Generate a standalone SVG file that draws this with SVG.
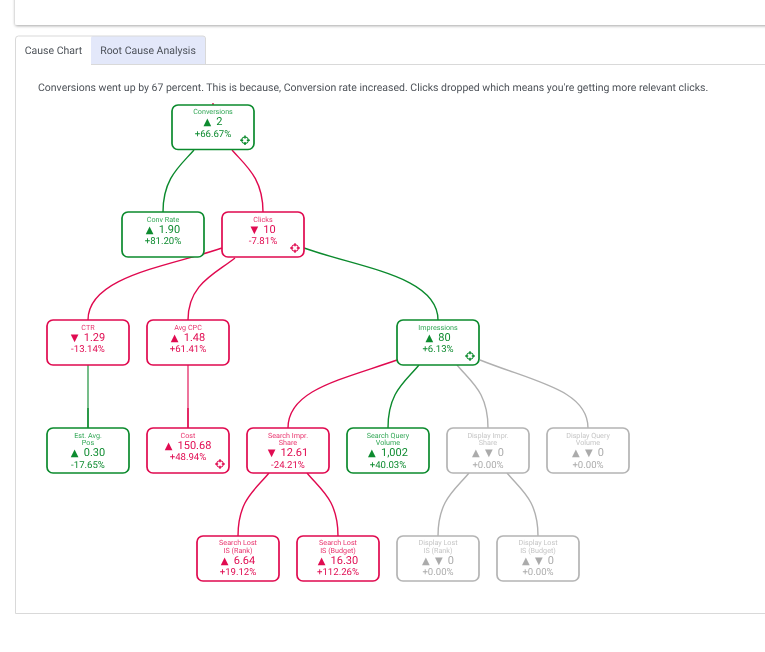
<svg xmlns="http://www.w3.org/2000/svg" width="765" height="652" viewBox="0 0 765 652">
<style>
text{font-family:Roboto,"Liberation Sans","DejaVu Sans",sans-serif;text-anchor:middle;text-rendering:geometricPrecision;opacity:.99}
.box{fill:#fff;stroke-width:1.7}
.nm{font-size:7.2px}
.val{font-size:11px}
.pct{font-size:9.6px}
.a{font-family:"DejaVu Sans",sans-serif;font-size:10px;letter-spacing:1px}
.g .box{stroke:#0b8a2d}.g text{fill:#0b8a2d}.g .nm{fill:#2fa653}
.r .box{stroke:#e0094f}.r text{fill:#e0094f}.r .nm{fill:#e8306c}
.n .box{stroke:#b4b4b4}.n text{fill:#ababab}.n .nm{fill:#c4c4c4}
.c{fill:none;stroke-width:1.4}
.cg{stroke:#0b8a2d}.cr{stroke:#e0094f}.cn{stroke:#b0b0b0}
.tab{font-size:10.5px;fill:#4a4f57}
.line{stroke:#d9d9d9;stroke-width:1;fill:none}
.t2{fill:#4a4f57;font-size:10.5px;text-anchor:start}
</style>
<defs>
<filter id="sh" x="-5%" y="-20%" width="110%" height="150%"><feDropShadow dx="0" dy="1" stdDeviation="1.5" flood-color="#000" flood-opacity=".35"/></filter>
<g id="tgt" fill="none">
<circle r="3.3" stroke="currentColor" stroke-width="1.1"/>
<path d="M0-4.800V-1.800M0 1.800V4.800M-4.800 0H-1.800M1.800 0H4.800" stroke="currentColor" stroke-width="1.500"/>
</g>
</defs>
<rect width="765" height="652" fill="#fff"/>
<rect id="top-card" x="15" y="-20" width="770" height="45" rx="2" fill="#fff" filter="url(#sh)"/>
<g id="tabs">
<path d="M91 64V38a2 2 0 0 1 2-2H203a2 2 0 0 1 2 2V64Z" fill="#e3e8fa"/>
<path class="line" d="M15.500 613.500V39a3 3 0 0 1 3-3H91M205.500 38V64.500H91M205 64.500H765M15.500 613.500H765"/>
<path class="line" d="M91 36H203a2.500 2.500 0 0 1 2.500 2.500"/>
<text class="tab" x="53.500" y="54">Cause Chart</text>
<text class="tab" x="148" y="54">Root Cause Analysis</text>
</g>
<text class="t2" x="38" y="91">Conversions went up by 67 percent. This is because, Conversion rate increased. Clicks dropped which means you're getting more relevant clicks.</text>
<g id="connectors">
<path class="c cr" d="M213 103V105"/>
<path class="c cg" d="M194 150C180 166 163 178 163 212"/>
<path class="c cr" d="M232 150C246 166 263 178 263 212"/>
<path class="c cr" d="M222 248C170 266 88 276 88 320"/>
<path class="c cr" d="M235 258C215 274 188 284 188 320"/>
<path class="c cg" d="M304 248C360 268 438 276 438 320"/>
<path class="c cg" d="M88 365V428" stroke-opacity=".8"/>
<path class="c cg" d="M88 408V428"/>
<path class="c cr" d="M188 365V428" stroke-opacity=".8"/>
<path class="c cr" d="M188 408V428"/>
<path class="c cr" d="M397 360C340 380 288 390 288 428"/>
<path class="c cg" d="M419 365C405 382 388 392 388 428"/>
<path class="c cn" d="M457 365C471 382 488 392 488 428"/>
<path class="c cn" d="M480 360C535 382 588 390 588 428"/>
<path class="c cr" d="M269 473C255 490 238 500 238 536"/>
<path class="c cr" d="M307 473C321 490 338 500 338 536"/>
<path class="c cn" d="M469 473C455 490 438 500 438 536"/>
<path class="c cn" d="M507 473C521 490 538 500 538 536"/>
</g>
<g id="conversions" class="g" transform="translate(172 105)"><rect class="box" width="82" height="44.500" rx="6"/><text class="nm" x="41" y="9">Conversions</text><text class="val" x="41" y="20"><tspan class="a">▲ </tspan>2</text><text class="pct" x="41" y="32">+66.67%</text><use href="#tgt" x="73" y="35.300" color="#0b8a2d"/></g>
<g id="conv-rate" class="g" transform="translate(122 212)"><rect class="box" width="82" height="45" rx="6"/><text class="nm" x="41" y="10">Conv Rate</text><text class="val" x="41" y="21"><tspan class="a">▲ </tspan>1.90</text><text class="pct" x="41" y="32">+81.20%</text></g>
<g id="clicks" class="r" transform="translate(222 212)"><rect class="box" width="82" height="45" rx="6"/><text class="nm" x="41" y="10">Clicks</text><text class="val" x="41" y="21"><tspan class="a">▼ </tspan>10</text><text class="pct" x="41" y="32">-7.81%</text><use href="#tgt" x="73" y="36" color="#e0094f"/></g>
<g id="ctr" class="r" transform="translate(47 320)"><rect class="box" width="82" height="45" rx="6"/><text class="nm" x="41" y="10">CTR</text><text class="val" x="41" y="21"><tspan class="a">▼ </tspan>1.29</text><text class="pct" x="41" y="32">-13.14%</text></g>
<g id="avg-cpc" class="r" transform="translate(147 320)"><rect class="box" width="82" height="45" rx="6"/><text class="nm" x="41" y="10">Avg CPC</text><text class="val" x="41" y="21"><tspan class="a">▲ </tspan>1.48</text><text class="pct" x="41" y="32">+61.41%</text></g>
<g id="impressions" class="g" transform="translate(397 320)"><rect class="box" width="82" height="45" rx="6"/><text class="nm" x="41" y="10">Impressions</text><text class="val" x="41" y="21"><tspan class="a">▲ </tspan>80</text><text class="pct" x="41" y="32">+6.13%</text><use href="#tgt" x="73" y="36" color="#0b8a2d"/></g>
<g id="est-avg-pos" class="g" transform="translate(47 428)"><rect class="box" width="82" height="45" rx="6"/><text class="nm" x="41" y="10">Est. Avg.</text><text class="nm" x="41" y="17">Pos</text><text class="val" x="41" y="28"><tspan class="a">▲ </tspan>0.30</text><text class="pct" x="41" y="40">-17.65%</text></g>
<g id="cost" class="r" transform="translate(147 428)"><rect class="box" width="82" height="45" rx="6"/><text class="nm" x="41" y="10">Cost</text><text class="val" x="41" y="21"><tspan class="a">▲ </tspan>150.68</text><text class="pct" x="41" y="32">+48.94%</text><use href="#tgt" x="73" y="36" color="#e0094f"/></g>
<g id="search-impr-share" class="r" transform="translate(247 428)"><rect class="box" width="82" height="45" rx="6"/><text class="nm" x="41" y="10">Search Impr.</text><text class="nm" x="41" y="17">Share</text><text class="val" x="41" y="28"><tspan class="a">▼ </tspan>12.61</text><text class="pct" x="41" y="40">-24.21%</text></g>
<g id="search-query-volume" class="g" transform="translate(347 428)"><rect class="box" width="82" height="45" rx="6"/><text class="nm" x="41" y="10">Search Query</text><text class="nm" x="41" y="17">Volume</text><text class="val" x="41" y="28"><tspan class="a">▲ </tspan>1,002</text><text class="pct" x="41" y="40">+40.03%</text></g>
<g id="display-impr-share" class="n" transform="translate(447 428)"><rect class="box" width="82" height="45" rx="6"/><text class="nm" x="41" y="10">Display Impr.</text><text class="nm" x="41" y="17">Share</text><text class="val" x="41" y="28"><tspan class="a">▲ ▼ </tspan>0</text><text class="pct" x="41" y="40">+0.00%</text></g>
<g id="display-query-volume" class="n" transform="translate(547 428)"><rect class="box" width="82" height="45" rx="6"/><text class="nm" x="41" y="10">Display Query</text><text class="nm" x="41" y="17">Volume</text><text class="val" x="41" y="28"><tspan class="a">▲ ▼ </tspan>0</text><text class="pct" x="41" y="40">+0.00%</text></g>
<g id="search-lost-rank" class="r" transform="translate(197 536)"><rect class="box" width="82" height="45" rx="6"/><text class="nm" x="41" y="9">Search Lost</text><text class="nm" x="41" y="17">IS (Rank)</text><text class="val" x="41" y="28"><tspan class="a">▲ </tspan>6.64</text><text class="pct" x="41" y="39">+19.12%</text></g>
<g id="search-lost-budget" class="r" transform="translate(297 536)"><rect class="box" width="82" height="45" rx="6"/><text class="nm" x="41" y="9">Search Lost</text><text class="nm" x="41" y="17">IS (Budget)</text><text class="val" x="41" y="28"><tspan class="a">▲ </tspan>16.30</text><text class="pct" x="41" y="39">+112.26%</text></g>
<g id="display-lost-rank" class="n" transform="translate(397 536)"><rect class="box" width="82" height="45" rx="6"/><text class="nm" x="41" y="9">Display Lost</text><text class="nm" x="41" y="17">IS (Rank)</text><text class="val" x="41" y="28"><tspan class="a">▲ ▼ </tspan>0</text><text class="pct" x="41" y="39">+0.00%</text></g>
<g id="display-lost-budget" class="n" transform="translate(497 536)"><rect class="box" width="82" height="45" rx="6"/><text class="nm" x="41" y="9">Display Lost</text><text class="nm" x="41" y="17">IS (Budget)</text><text class="val" x="41" y="28"><tspan class="a">▲ ▼ </tspan>0</text><text class="pct" x="41" y="39">+0.00%</text></g>
</svg>
